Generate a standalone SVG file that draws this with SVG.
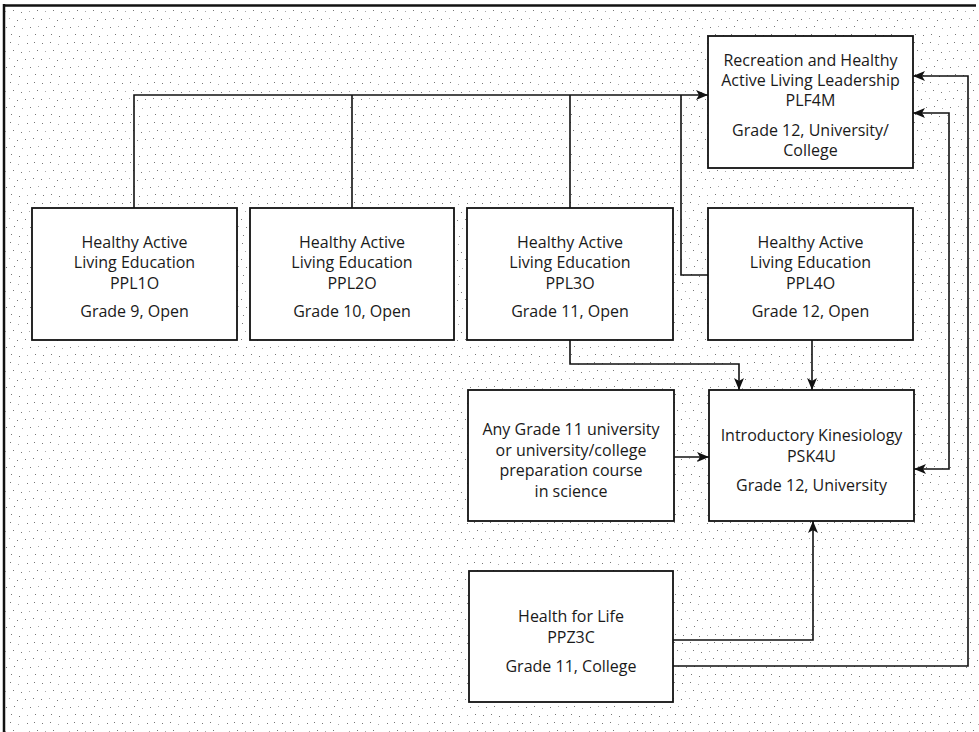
<svg xmlns="http://www.w3.org/2000/svg" width="979" height="732" viewBox="0 0 979 732">
<style>
.box{fill:#fff;stroke:#111;stroke-width:1.8}
.t{font-family:"Open Sans","Noto Sans","DejaVu Sans",sans-serif;font-size:16px;fill:#1a1a1a;text-anchor:middle}
.c{fill:none;stroke:#111;stroke-width:1.6}
.frame{stroke:#111;stroke-width:2.5;fill:none}
</style>
<defs>
<pattern id="stip" width="40" height="40" patternUnits="userSpaceOnUse">
<g fill="#777">
<rect x="2" y="3" width="1" height="1"/><rect x="10" y="2" width="1" height="1"/><rect x="27" y="3" width="1" height="1"/><rect x="34" y="2" width="1" height="1"/>
<rect x="13" y="10" width="1" height="1"/><rect x="21" y="12" width="1" height="1"/><rect x="37" y="10" width="1" height="1"/>
<rect x="1" y="19" width="1" height="1"/><rect x="17" y="20" width="1" height="1"/><rect x="25" y="19" width="1" height="1"/><rect x="33" y="18" width="1" height="1"/>
<rect x="6" y="27" width="1" height="1"/><rect x="14" y="26" width="1" height="1"/><rect x="30" y="27" width="1" height="1"/>
<rect x="3" y="35" width="1" height="1"/><rect x="11" y="34" width="1" height="1"/><rect x="19" y="36" width="1" height="1"/><rect x="35" y="34" width="1" height="1"/>
</g>
<g fill="#aaa">
<rect x="18" y="4" width="1" height="1"/><rect x="5" y="11" width="1" height="1"/><rect x="29" y="11" width="1" height="1"/>
<rect x="9" y="18" width="1" height="1"/><rect x="22" y="28" width="1" height="1"/><rect x="38" y="26" width="1" height="1"/><rect x="27" y="35" width="1" height="1"/>
</g>
</pattern>
<marker id="arr" viewBox="0 0 12 10" refX="12" refY="5" markerWidth="12" markerHeight="10" markerUnits="userSpaceOnUse" orient="auto-start-reverse">
<path d="M0,0 L12,5 L0,10 L3,5 Z" fill="#111"/>
</marker>
</defs>
<rect x="0" y="0" width="979" height="732" fill="#fff"/>
<rect x="5" y="7" width="974" height="725" fill="url(#stip)"/>
<path class="frame" d="M3,5.5 H976 M4,4 V732"/>

<g id="connectors">
<path class="c" d="M134,208 V95 H708" marker-end="url(#arr)"/>
<path class="c" d="M352,208 V95"/>
<path class="c" d="M570,208 V95"/>
<path class="c" d="M708,275 H681 V95"/>
<path class="c" d="M570,340 V364 H739 V390" marker-end="url(#arr)"/>
<path class="c" d="M812,340 V390" marker-end="url(#arr)"/>
<path class="c" d="M674,457 H709" marker-end="url(#arr)"/>
<path class="c" d="M673,640 H813 V521" marker-end="url(#arr)"/>
<path class="c" d="M673,666 H968 V76 H913" marker-end="url(#arr)"/>
<path class="c" d="M913,113 H949 V469 H914" marker-start="url(#arr)" marker-end="url(#arr)"/>
</g>

<g id="PLF4M">
<rect class="box" x="708" y="36" width="205" height="132"/>
<text class="t" x="810.5" y="66">Recreation and Healthy</text>
<text class="t" x="810.5" y="86">Active Living Leadership</text>
<text class="t" x="810.5" y="106">PLF4M</text>
<text class="t" x="810.5" y="136">Grade 12, University/</text>
<text class="t" x="810.5" y="156">College</text>
</g>

<g id="PPL1O">
<rect class="box" x="32" y="208" width="205" height="132"/>
<text class="t" x="134.5" y="248">Healthy Active</text>
<text class="t" x="134.5" y="268">Living Education</text>
<text class="t" x="134.5" y="289">PPL1O</text>
<text class="t" x="134.5" y="317">Grade 9, Open</text>
</g>

<g id="PPL2O">
<rect class="box" x="250" y="208" width="204" height="132"/>
<text class="t" x="352" y="248">Healthy Active</text>
<text class="t" x="352" y="268">Living Education</text>
<text class="t" x="352" y="289">PPL2O</text>
<text class="t" x="352" y="317">Grade 10, Open</text>
</g>

<g id="PPL3O">
<rect class="box" x="467" y="208" width="206" height="132"/>
<text class="t" x="570" y="248">Healthy Active</text>
<text class="t" x="570" y="268">Living Education</text>
<text class="t" x="570" y="289">PPL3O</text>
<text class="t" x="570" y="317">Grade 11, Open</text>
</g>

<g id="PPL4O">
<rect class="box" x="708" y="208" width="205" height="132"/>
<text class="t" x="810.5" y="248">Healthy Active</text>
<text class="t" x="810.5" y="268">Living Education</text>
<text class="t" x="810.5" y="289">PPL4O</text>
<text class="t" x="810.5" y="317">Grade 12, Open</text>
</g>

<g id="AnyGrade11">
<rect class="box" x="468" y="390" width="206" height="131"/>
<text class="t" x="571" y="435">Any Grade 11 university</text>
<text class="t" x="571" y="456">or university/college</text>
<text class="t" x="571" y="476">preparation course</text>
<text class="t" x="571" y="497">in science</text>
</g>

<g id="PSK4U">
<rect class="box" x="709" y="390" width="205" height="131"/>
<text class="t" x="811.5" y="441">Introductory Kinesiology</text>
<text class="t" x="811.5" y="462">PSK4U</text>
<text class="t" x="811.5" y="491">Grade 12, University</text>
</g>

<g id="PPZ3C">
<rect class="box" x="469" y="571" width="204" height="131"/>
<text class="t" x="571" y="622">Health for Life</text>
<text class="t" x="571" y="643">PPZ3C</text>
<text class="t" x="571" y="672">Grade 11, College</text>
</g>
</svg>
